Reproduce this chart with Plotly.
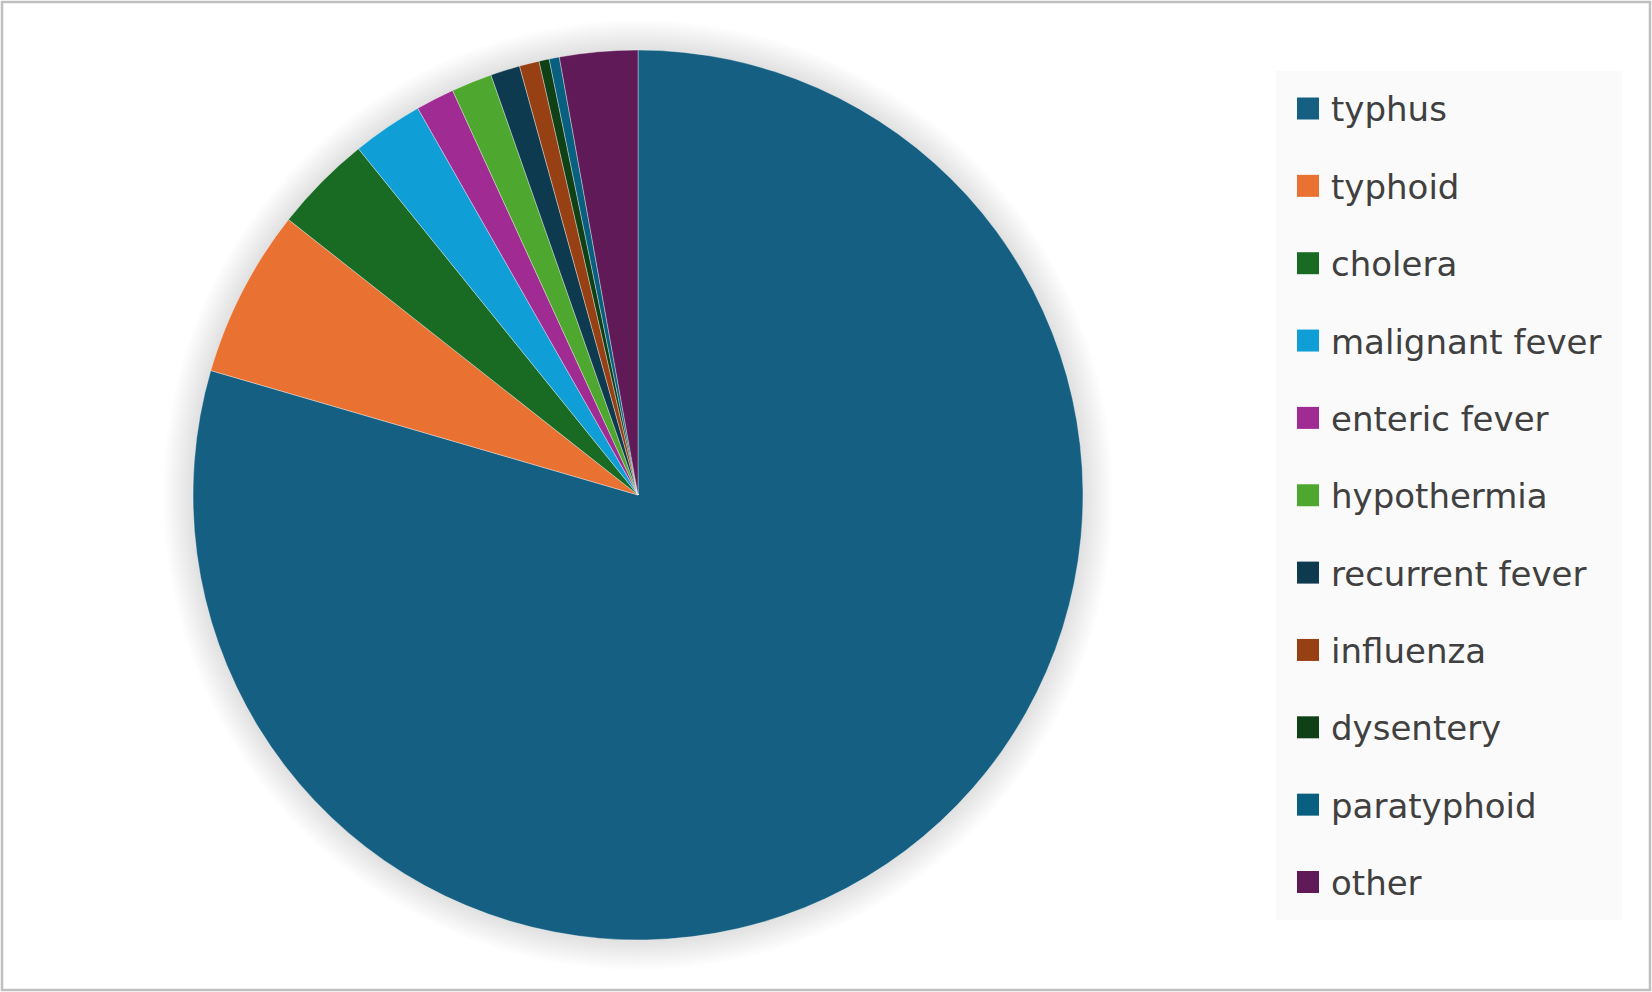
import plotly.graph_objects as go

W, H = 1652, 992

labels = ["typhus", "typhoid", "cholera", "malignant fever", "enteric fever",
          "hypothermia", "recurrent fever", "influenza", "dysentery",
          "paratyphoid", "other"]
values = [79.52, 6.11, 3.57, 2.57, 1.40, 1.48, 1.07, 0.72, 0.37, 0.37, 2.83]
colors = ["#156082", "#E97132", "#196B24", "#0F9ED5", "#A02B93", "#4EA72E",
          "#0D3A4E", "#974014", "#0F4016", "#095F80", "#601A58"]

def px(x):
    return x / W

def py(y):
    return 1 - y / H

cx, cy, r = 638, 495, 445

fig = go.Figure()
fig.add_trace(go.Pie(
    labels=labels, values=values, sort=False, direction="clockwise",
    rotation=0, textinfo="none", hoverinfo="label+percent",
    marker=dict(colors=colors, line=dict(color="rgba(255,255,255,0.6)", width=0.6)),
    domain=dict(x=[px(cx - r), px(cx + r)], y=[py(cy + r), py(cy - r)]),
    showlegend=False,
))

shapes = []
# soft glow/shadow around pie
for i in range(1, 16):
    rr = r + i * 2.0
    shapes.append(dict(type="circle", xref="paper", yref="paper", layer="below",
                       x0=px(cx - rr), x1=px(cx + rr),
                       y0=py(cy + rr), y1=py(cy - rr),
                       fillcolor="rgba(0,0,0,0.009)", line=dict(width=0)))
# outer border
shapes.append(dict(type="rect", xref="paper", yref="paper",
                   x0=px(2), x1=px(W - 2), y0=py(H - 2), y1=py(2),
                   line=dict(color="#BFBFBF", width=2.5), fillcolor="rgba(0,0,0,0)"))
# legend background
shapes.append(dict(type="rect", xref="paper", yref="paper", layer="below",
                   x0=px(1276), x1=px(1622), y0=py(920), y1=py(71),
                   line=dict(width=0), fillcolor="#FAFAFA"))

annotations = []
y0, step = 108.5, 77.35
for i, (lab, col) in enumerate(zip(labels, colors)):
    yc = y0 + i * step
    shapes.append(dict(type="rect", xref="paper", yref="paper",
                       x0=px(1297), x1=px(1319), y0=py(yc + 11), y1=py(yc - 11),
                       line=dict(width=0), fillcolor=col))
    annotations.append(dict(x=px(1329), y=py(yc + 1), xref="paper", yref="paper",
                            text=lab, showarrow=False, xanchor="left", yanchor="middle",
                            font=dict(family="DejaVu Sans", size=34, color="#404040")))

fig.update_layout(
    width=W, height=H, margin=dict(l=0, r=0, t=0, b=0),
    paper_bgcolor="white", plot_bgcolor="white",
    shapes=shapes, annotations=annotations,
)

fig.write_html("out.html", config={"displayModeBar": False},
               post_script="document.body.style.margin='0';document.body.style.padding='0';")
